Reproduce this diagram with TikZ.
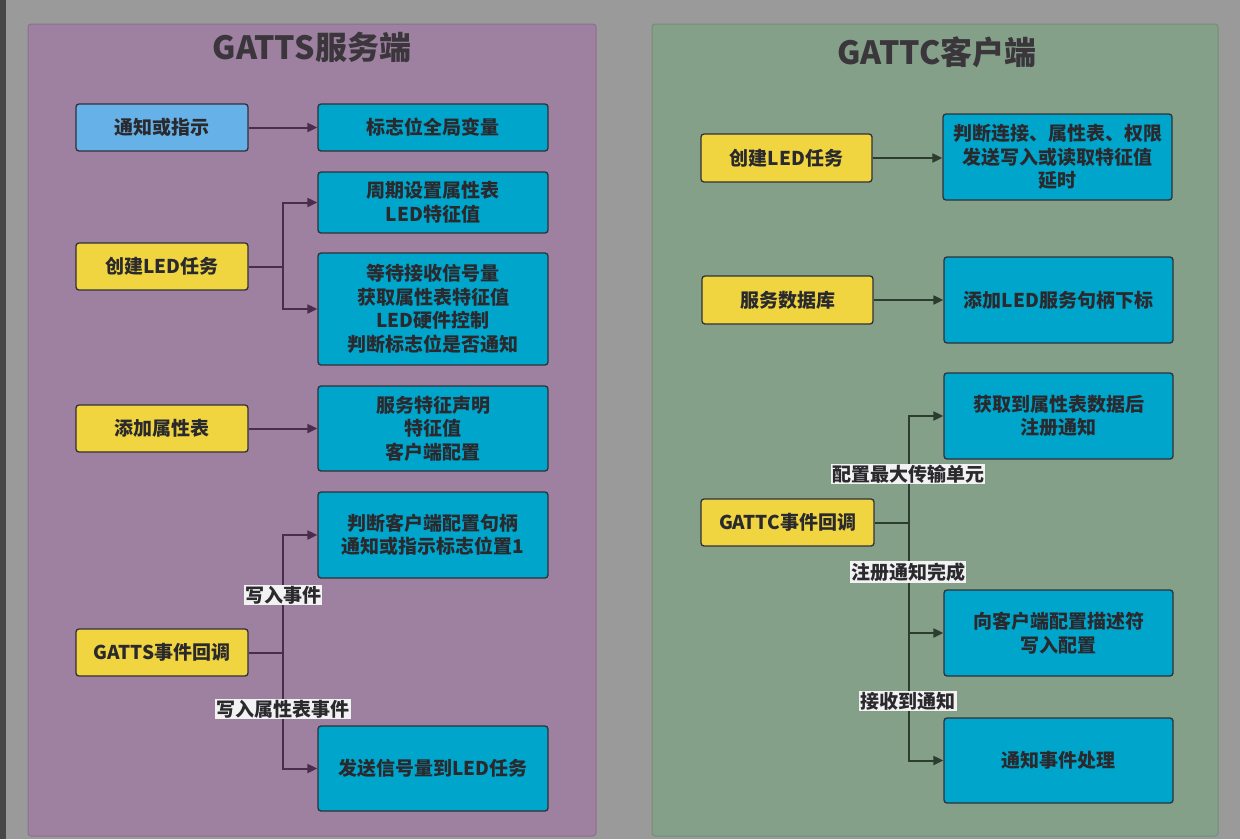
\documentclass[tikz,border=0pt]{standalone}
\usepackage{fontspec}
\newfontfamily\cjk{Noto Sans CJK SC}
\usetikzlibrary{arrows.meta}
\definecolor{bgc}{HTML}{9A9A9A}
\definecolor{stripc}{HTML}{474747}
\definecolor{purp}{HTML}{9E80A0}
\definecolor{purpedge}{HTML}{8C7090}
\definecolor{grn}{HTML}{84A088}
\definecolor{grnedge}{HTML}{738E78}
\definecolor{cyanb}{HTML}{00A5CC}
\definecolor{lblue}{HTML}{66B2E8}
\definecolor{yel}{HTML}{F0D540}
\definecolor{boxline}{HTML}{303038}
\definecolor{txt}{HTML}{2A2A2E}
\definecolor{purpline}{HTML}{4A2C4C}
\definecolor{grnline}{HTML}{2C3C2E}
\definecolor{titlec}{HTML}{3A363C}
\definecolor{lblbg}{HTML}{F2F2F2}
\tikzset{
  box/.style={draw=boxline, line width=1.3pt, rounded corners=3pt, text=txt,
    font=\cjk\bfseries\fontsize{19}{23.5}\selectfont, align=center, inner sep=0pt},
  ybox/.style={box, fill=yel, minimum width=172pt, minimum height=47pt},
  cbox/.style={box, fill=cyanb, minimum width=230pt},
  lbl/.style={fill=lblbg, text=txt, font=\cjk\bfseries\fontsize{19}{21}\selectfont, inner sep=1.2pt},
  lconn/.style={draw=purpline, line width=2pt},
  rconn/.style={draw=grnline, line width=2pt},
  tip/.style={-{Triangle[length=10pt,width=9pt]}},
  ttl/.style={text=titlec, font=\cjk\bfseries\fontsize{32}{36}\selectfont}
}
\begin{document}
\begin{tikzpicture}[x=1pt,y=-1pt]
\useasboundingbox (0,0) rectangle (1240,839);
\fill[bgc] (0,0) rectangle (1240,839);
\fill[stripc] (0,0) rectangle (6,839);
% panels
\draw[fill=purp, draw=purpedge, line width=1pt, rounded corners=3pt] (28,24) rectangle (596,836);
\draw[fill=grn, draw=grnedge, line width=1pt, rounded corners=3pt] (652,24) rectangle (1218,836);
\node[ttl] (tl) at (312,47) {GATTS服务端};
\node[ttl] (tr) at (937,52) {GATTC客户端};
% ---------- left ----------
\node[box, fill=lblue, minimum width=172pt, minimum height=47pt] (n1) at (162,127.5) {通知或指示};
\node[cbox, minimum height=47pt] (t1) at (433,127.5) {标志位全局变量};
\node[cbox, minimum height=61pt] (t2) at (433,202.5) {周期设置属性表\\LED特征值};
\node[ybox] (y1) at (162,266.5) {创建LED任务};
\node[cbox, minimum height=112pt] (t3) at (433,309) {等待接收信号量\\获取属性表特征值\\LED硬件控制\\判断标志位是否通知};
\node[ybox] (y2) at (162,428.5) {添加属性表};
\node[cbox, minimum height=85pt] (t4) at (433,428.5) {服务特征声明\\特征值\\客户端配置};
\node[cbox, minimum height=86pt] (t5) at (433,535) {判断客户端配置句柄\\通知或指示标志位置1};
\node[ybox] (y3) at (162,652.5) {GATTS事件回调};
\node[cbox, minimum height=85pt] (t6) at (433,768.5) {发送信号量到LED任务};

\draw[lconn, tip] (n1.east) -- (t1.west);
\draw[lconn, tip] (y2.east) -- (t4.west);
\draw[lconn] (y1.east) -- (283,266.5) coordinate (j1);
\draw[lconn, tip] (j1) |- (t2.west);
\draw[lconn, tip] (j1) |- (t3.west);
\draw[lconn] (y3.east) -- (283,652.5) coordinate (j2);
\draw[lconn, tip] (j2) |- (t5.west);
\draw[lconn, tip] (j2) |- (t6.west);
\node[lbl] (l1) at (283,595) {写入事件};
\node[lbl] (l2) at (283,709) {写入属性表事件};
% ---------- right ----------
\node[ybox, minimum width=171pt, minimum height=48pt] (y4) at (786.5,158) {创建LED任务};
\node[cbox, minimum width=229pt, minimum height=86pt] (r1) at (1057.5,157) {判断连接、属性表、权限\\发送写入或读取特征值\\延时};
\node[ybox, minimum width=171pt, minimum height=48pt] (y5) at (787.5,300) {服务数据库};
\node[cbox, minimum width=229pt, minimum height=86pt] (r2) at (1058.5,300) {添加LED服务句柄下标};
\node[cbox, minimum width=229pt, minimum height=86pt] (r3) at (1058.5,416) {获取到属性表数据后\\注册通知};
\node[ybox, minimum width=173pt] (y6) at (787.5,522.5) {GATTC事件回调};
\node[cbox, minimum width=229pt, minimum height=86pt] (r4) at (1058.5,633) {向客户端配置描述符\\写入配置};
\node[cbox, minimum width=229pt, minimum height=85pt] (r5) at (1058.5,760.5) {通知事件处理};

\draw[rconn, tip] (y4.east) -- (r1.west |- y4.east);
\draw[rconn, tip] (y5.east) -- (r2.west);
\draw[rconn] (y6.east) -- (909,522.5) coordinate (j3);
\draw[rconn, tip] (j3) |- (r3.west);
\draw[rconn, tip] (j3) |- (r4.west);
\draw[rconn, tip] (j3) |- (r5.west);
\node[lbl] (l3) at (908,474) {配置最大传输单元};
\node[lbl] (l4) at (908,572) {注册通知完成};
\node[lbl] (l5) at (908,701) {接收到通知};
\end{tikzpicture}
\end{document}
